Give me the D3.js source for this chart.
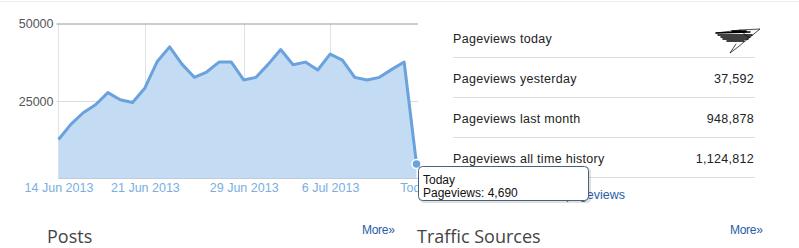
<!DOCTYPE html>
<html>
<head>
<meta charset="utf-8">
<script src="https://cdn.jsdelivr.net/npm/d3@7"></script>
<style>
    body { margin: 0; background: #fff; }
    svg { display: block; font-family: "Liberation Sans", Arial, sans-serif; }
</style>
</head>
<body>
<div class="visualGraph"></div>
<script>
// daily pageviews, 14 Jun 2013 .. today (13 Jul 2013)
const startDay = new Date(2013, 5, 14);
const pageviews = [12560, 17470, 21200, 23780, 27700, 25380, 24500, 29200, 37750, 42460,
    36900, 32630, 34350, 37550, 37550, 31800, 32630, 36900, 41600, 36700,
    37550, 35000, 40130, 38200, 32630, 31800, 32630, 35200, 37592, 4690];
const yTicks = [25000, 50000];
const tickDates = [new Date(2013, 5, 14), new Date(2013, 5, 21), new Date(2013, 5, 29), new Date(2013, 6, 6), new Date(2013, 6, 13)];
const tickLabels = ["14 Jun 2013", "21 Jun 2013", "29 Jun 2013", "6 Jul 2013", "Today"];

const statLabels = ["Pageviews today", "Pageviews yesterday", "Pageviews last month", "Pageviews all time history"];
const statValues = ["", "37,592", "948,878", "1,124,812"];

const days = d3.timeDay.range(startDay, d3.timeDay.offset(startDay, pageviews.length));
const data = days.map((d, i) => ({ date: d, value: pageviews[i] }));

const width = 799, height = 248;

const svg = d3.select(".visualGraph")
    .append("svg")
    .attr("width", width)
    .attr("height", height)
    .attr("viewBox", [0, 0, width, height]);

// top border of the page
svg.append("line")
    .attr("x1", 0).attr("x2", width)
    .attr("y1", 1.5).attr("y2", 1.5)
    .attr("stroke", "#ececec");

const x = d3.scaleTime()
    .domain(d3.extent(days))
    .range([58.5, 416.5]);
const y = d3.scaleLinear()
    .domain([0, 50000])
    .range([178.5, 23.5]);

// vertical grid at the labelled dates
svg.append("g")
    .selectAll("line")
    .data(tickDates.slice(1, -1))
    .join("line")
    .attr("x1", d => Math.round(x(d)) + 0.5)
    .attr("x2", d => Math.round(x(d)) + 0.5)
    .attr("y1", y(50000)).attr("y2", y(0))
    .attr("stroke", "#dde3ea");

// y axis line
svg.append("line")
    .attr("x1", 58.5).attr("x2", 58.5)
    .attr("y1", y(50000)).attr("y2", y(0))
    .attr("stroke", "#e2e2e2");

// horizontal grid + labels
const yAxis = svg.append("g")
    .attr("transform", "translate(58.5,0)")
    .call(d3.axisLeft(y).tickValues(yTicks).tickSize(-(418 - 58.5)).tickPadding(5).tickFormat(d3.format("d")));
yAxis.select(".domain").remove();
yAxis.selectAll(".tick line")
    .attr("x1", -2)
    .attr("stroke", d => d === 50000 ? "#9a9a9a" : "#dcdcdc");
yAxis.selectAll(".tick text")
    .attr("fill", "#555")
    .style("font-size", "12.5px")
    .style("font-family", "'Liberation Sans', Arial, sans-serif");

// area + line
const area = d3.area()
    .x(d => x(d.date))
    .y0(y(0))
    .y1(d => y(d.value));
const line = d3.line()
    .x(d => x(d.date))
    .y(d => y(d.value));

svg.append("path")
    .datum(data)
    .attr("d", area)
    .attr("fill", "#c4dbf4");

// baseline
svg.append("line")
    .attr("x1", 58.5).attr("x2", 418)
    .attr("y1", y(0)).attr("y2", y(0))
    .attr("stroke", "#bfcbd8");

svg.append("path")
    .datum(data)
    .attr("d", line)
    .attr("fill", "none")
    .attr("stroke", "#69a2dc")
    .attr("stroke-width", 3)
    .attr("stroke-linejoin", "round");

// x labels
const xAxis = svg.append("g")
    .attr("transform", `translate(0,${y(0)})`)
    .call(d3.axisBottom(x).tickValues(tickDates).tickSize(0).tickPadding(5)
        .tickFormat((d, i) => tickLabels[i]));
xAxis.select(".domain").remove();
xAxis.selectAll(".tick text")
    .attr("fill", "#7aaee0")
    .style("font-size", "12.5px")
    .style("font-family", "'Liberation Sans', Arial, sans-serif");

// highlighted last point
const last = data[data.length - 1];
svg.append("circle")
    .attr("cx", x(last.date))
    .attr("cy", y(last.value))
    .attr("r", 4.5)
    .attr("fill", "#69a2dc")
    .attr("stroke", "#fff")
    .attr("stroke-width", 1.5);

// stats table on the right
const rowH = 40;
const table = svg.append("g").attr("transform", "translate(453,0)");
table.selectAll("text.label")
    .data(statLabels)
    .join("text")
    .attr("class", "label")
    .attr("x", 0)
    .attr("y", (d, i) => 43 + i * rowH)
    .attr("fill", "#222")
    .style("font-size", "12.5px")
    .style("letter-spacing", "0.3px")
    .text(d => d);
table.selectAll("text.value")
    .data(statValues)
    .join("text")
    .attr("class", "value")
    .attr("x", 301)
    .attr("y", (d, i) => 43 + i * rowH)
    .attr("text-anchor", "end")
    .attr("fill", "#222")
    .style("font-size", "12.5px")
    .style("letter-spacing", "0.3px")
    .text(d => d);
table.selectAll("line")
    .data(statLabels)
    .join("line")
    .attr("x1", 0).attr("x2", 302)
    .attr("y1", (d, i) => 57.5 + i * rowH)
    .attr("y2", (d, i) => 57.5 + i * rowH)
    .attr("stroke", "#dedede");

// scribbled-out value for today
const scrib = svg.append("g").attr("fill", "none").attr("stroke", "#000")
    .attr("stroke-linecap", "round");
scrib.append("path")
    .attr("d", "M716,33 L750,32 M718,35 L752,35 M721,37 L750,37 M723,39 L748,39 M727,41 L744,41 M732,31 L746,31")
    .attr("stroke-width", 1.5);
scrib.append("path")
    .attr("d", "M716,33 L740,30 L760,29 L744,42 L738,47 L730,53 L736,44 M740,30 L748,37")
    .attr("stroke-width", 0.7);

// partially hidden link
svg.append("text")
    .attr("x", 625).attr("y", 199)
    .attr("text-anchor", "end")
    .attr("fill", "#2a5ea8")
    .style("font-size", "12.5px")
    .text("More pageviews");

// tooltip
const tip = svg.append("g").attr("transform", "translate(418,166)");
tip.append("rect")
    .attr("x", 2).attr("y", 2)
    .attr("width", 171).attr("height", 35)
    .attr("rx", 4)
    .attr("fill", "#000").attr("opacity", 0.12);
tip.append("rect")
    .attr("x", 0.5).attr("y", 0.5)
    .attr("width", 170).attr("height", 34)
    .attr("rx", 4)
    .attr("fill", "#fff")
    .attr("stroke", "#46627f");
tip.append("text")
    .attr("x", 5).attr("y", 18)
    .attr("fill", "#111")
    .style("font-size", "12px")
    .text("Today");
tip.append("text")
    .attr("x", 5).attr("y", 31)
    .attr("fill", "#111")
    .style("font-size", "12px")
    .text("Pageviews: " + d3.format(",")(last.value));

// section headings
const heads = [{ t: "Posts", x: 47, more: 362 }, { t: "Traffic Sources", x: 417, more: 730 }];
heads.forEach(h => {
    svg.append("text")
        .attr("x", h.x).attr("y", 243)
        .attr("fill", "#444")
        .style("font-family", "'Open Sans', sans-serif")
        .style("font-size", "18px")
        .text(h.t);
    svg.append("text")
        .attr("x", h.more).attr("y", 234)
        .attr("fill", "#2a5ea8")
        .style("font-size", "12px")
        .style("letter-spacing", "-0.3px")
        .text("More»");
});
</script>
</body>
</html>
